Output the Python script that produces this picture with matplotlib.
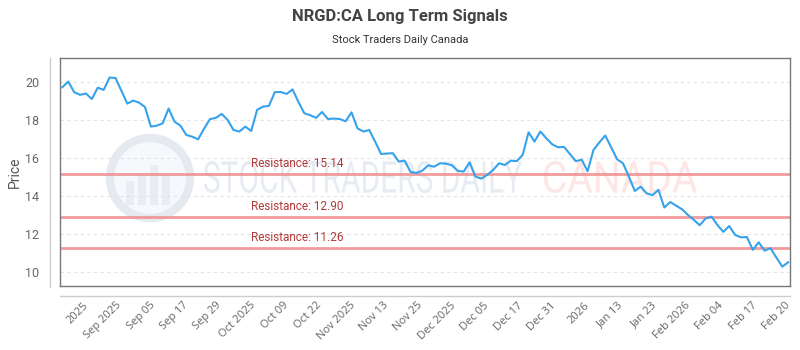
import numpy as np
import matplotlib
matplotlib.use("Agg")
import matplotlib.pyplot as plt
from matplotlib.lines import Line2D
from matplotlib.patches import Circle, Rectangle, PathPatch
from matplotlib.textpath import TextPath
from matplotlib.transforms import Affine2D, IdentityTransform
from matplotlib.font_manager import FontProperties

# Price series (one value per trading session)
prices = [
    19.72, 20.02, 19.46, 19.32, 19.39, 19.10, 19.70, 19.58, 20.23, 20.21,
    19.54, 18.86, 19.02, 18.91, 18.68, 17.65, 17.70, 17.82, 18.60, 17.91,
    17.70, 17.21, 17.12, 16.98, 17.53, 18.04, 18.11, 18.32, 18.00, 17.47,
    17.39, 17.65, 17.42, 18.53, 18.70, 18.74, 19.46, 19.47, 19.37, 19.61,
    18.95, 18.35, 18.25, 18.11, 18.42, 18.05, 18.07, 18.05, 17.93, 18.40,
    17.56, 17.39, 17.47, 16.86, 16.21, 16.23, 16.25, 15.81, 15.86, 15.26,
    15.21, 15.33, 15.61, 15.54, 15.72, 15.70, 15.61, 15.32, 15.28, 15.77,
    15.02, 14.91, 15.11, 15.37, 15.72, 15.63, 15.86, 15.83, 16.16, 17.35,
    16.86, 17.39, 17.04, 16.72, 16.56, 16.58, 16.21, 15.83, 15.91, 15.30,
    16.42, 16.82, 17.18, 16.56, 15.93, 15.72, 15.02, 14.26, 14.49, 14.14,
    14.04, 14.32, 13.39, 13.68, 13.49, 13.30, 13.00, 12.74, 12.46, 12.81,
    12.91, 12.47, 12.11, 12.42, 11.95, 11.82, 11.84, 11.16, 11.56, 11.12,
    11.25, 10.75, 10.28, 10.51,
]

tick_labels = [
    "2025", "Sep 2025", "Sep 05", "Sep 17", "Sep 29", "Oct 2025", "Oct 09",
    "Oct 22", "Nov 2025", "Nov 13", "Nov 25", "Dec 2025", "Dec 05", "Dec 17",
    "Dec 31", "2026", "Jan 13", "Jan 23", "Feb 2026", "Feb 04", "Feb 17",
    "Feb 20",
]

resistance = [15.14, 12.90, 11.26]

W, H = 800, 350
fig = plt.figure(figsize=(8, 3.5), dpi=100)
ax = fig.add_axes([60 / W, 1 - 286 / H, 730 / W, 228 / H])


def watermark_text(s, x0, x1, ytop, ybot, color):
    # squeeze the text into a box (pixel coords, from top-left)
    tp = TextPath((0, 0), s, size=100, prop=FontProperties(family="Roboto"))
    ext = tp.get_extents()
    tr = (Affine2D().translate(-ext.x0, -ext.y0)
          .scale((x1 - x0) / ext.width, (ybot - ytop) / ext.height)
          .translate(x0, H - ybot))
    ax.add_patch(PathPatch(tp, transform=tr + IdentityTransform(),
                           facecolor=color, edgecolor="none", zorder=0))


# watermark: logo + text
watermark_text("STOCK TRADERS DAILY", 204, 522, 161, 193, "#e7ecf3")
watermark_text("CANADA", 544, 697, 161, 193, "#fde6e6")
ax.add_patch(Circle((150, H - 178), 40, transform=IdentityTransform(),
                    facecolor="#f6f8fb", edgecolor="#e5eaf1", linewidth=6, zorder=0))
for bx, bh in [(126, 24), (138, 32), (150, 40), (162, 30)]:
    ax.add_patch(Rectangle((bx, H - 205), 8, bh, transform=IdentityTransform(),
                           facecolor="#e8edf4", edgecolor="none", zorder=0))

ax.plot(range(len(prices)), prices, color="#36a2eb", linewidth=1.5, zorder=3)

for r in resistance:
    ax.axhline(r, color="#f08a8a", linewidth=2, alpha=0.85, zorder=2)
    ax.text(32, r + 0.22, f"Resistance: {r:.2f}", color="#b03a3a",
            fontsize=8.5, family="Roboto", ha="left", va="bottom", zorder=4)

ax.set_xlim(-0.4, 123.3)
ax.set_ylim(9.26, 21.26)
ax.set_yticks([10, 12, 14, 16, 18, 20])
ax.yaxis.grid(True, color="#e4e4e4", linestyle=(0, (3, 3)), linewidth=0.8)
ax.set_axisbelow(True)

tick_pos = np.linspace(3.4, 122.4, len(tick_labels))
ax.set_xticks(tick_pos)
ax.set_xticklabels(tick_labels, rotation=45, ha="right", rotation_mode="anchor",
                   fontsize=8, family="Open Sans", color="#666666")
ax.tick_params(axis="x", length=0, pad=10)
ax.tick_params(axis="y", length=0, pad=15, labelsize=9, labelcolor="#666666")
for lab in ax.get_yticklabels():
    lab.set_family("Roboto")

for s in ax.spines.values():
    s.set_color("#777777")
    s.set_linewidth(1)

ax.set_ylabel("Price", fontsize=10, family="Roboto", color="#555555")
ax.yaxis.set_label_coords((22 - 60) / 730, 0.5)

# outer axis border lines
fig.add_artist(Line2D([50 / W, 50 / W], [1 - 287 / H, 1 - 58 / H],
                      color="#cccccc", linewidth=1))
fig.add_artist(Line2D([60 / W, 790 / W], [1 - 296 / H, 1 - 296 / H],
                      color="#cccccc", linewidth=1))

fig.text(0.5, 1 - 16 / H, "NRGD:CA Long Term Signals", ha="center", va="center",
         fontsize=12, fontweight="bold", family="Roboto", color="#444444")
fig.text(0.5, 1 - 40 / H, "Stock Traders Daily Canada", ha="center", va="center",
         fontsize=8, family="Roboto", color="#333333")

fig.savefig("out.png", dpi=100)
